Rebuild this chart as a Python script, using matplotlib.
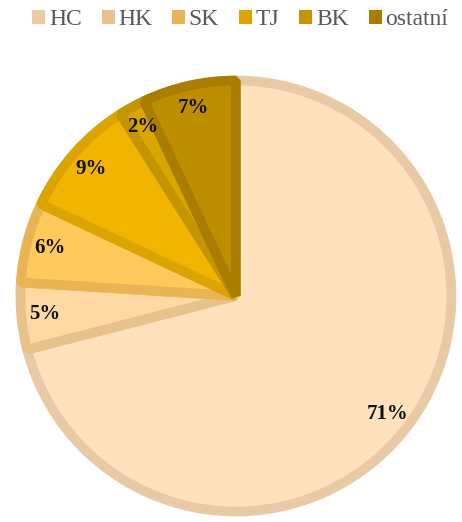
import matplotlib
matplotlib.use("Agg")
import matplotlib.pyplot as plt
from matplotlib.patches import Patch
import numpy as np

categories = ["HC", "HK", "SK", "TJ", "BK", "ostatní"]
values = [71, 5, 6, 9, 2, 7]
labels_pct = ["71%", "5%", "6%", "9%", "2%", "7%"]
fill_colors = ["#FFE1BD", "#FFD9A3", "#FFC95C", "#F1B400", "#D9A500", "#BD8E00"]
edge_colors = ["#E8CAA6", "#E9C18B", "#E9B453", "#DBA400", "#C49500", "#A87D00"]

fig = plt.figure(figsize=(4.62, 5.22), dpi=100)
ax = fig.add_axes([0.0346, 0.0115, 0.952, 0.843])
wedges, texts = ax.pie(values, colors=fill_colors, startangle=90, counterclock=False,
                       radius=0.98,
                       wedgeprops=dict(linewidth=7, joinstyle="bevel"))
for w, ec in zip(wedges, edge_colors):
    w.set_edgecolor(ec)
cum = 0
for v, lab in zip(values, labels_pct):
    mid = 90 - (cum + v / 2) / sum(values) * 360
    cum += v
    r = 0.875
    ax.text(r * np.cos(np.radians(mid)), r * np.sin(np.radians(mid)), lab,
            ha="center", va="center", fontsize=15, fontweight="bold",
            family="Liberation Serif", color="#111111")
ax.set_xlim(-1, 1)
ax.set_ylim(-1, 1)
ax.set_aspect("equal")
ax.axis("off")

handles = [Patch(facecolor=c, edgecolor="none") for c in edge_colors]
fig.legend(handles, categories, loc="center", bbox_to_anchor=(0.52, 0.962), ncol=6,
           frameon=False, prop=dict(family="Liberation Serif", size=17),
           labelcolor="#595959", handlelength=0.55, handleheight=0.55,
           handletextpad=0.15, columnspacing=0.85)
fig.savefig("out.png", dpi=100)
